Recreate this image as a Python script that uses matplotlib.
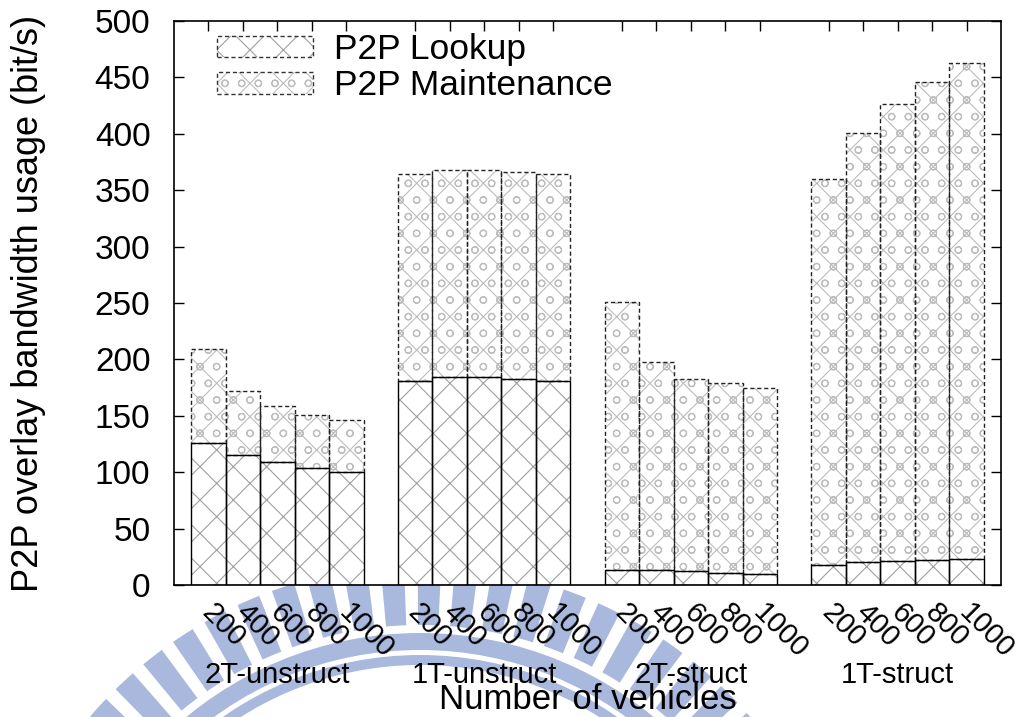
import numpy as np
import matplotlib.pyplot as plt
from matplotlib.patches import Patch, Wedge
from matplotlib.transforms import ScaledTranslation, blended_transform_factory

plt.rcParams['font.family'] = ['Liberation Sans', 'DejaVu Sans']
plt.rcParams['hatch.linewidth'] = 0.8

# -----------------------------
# Data
# -----------------------------
groups = ['2T-unstruct', '1T-unstruct', '2T-struct', '1T-struct']
vehicles = ['200', '400', '600', '800', '1000']

lookup = [
    [126, 115, 109, 104, 100],
    [181, 184, 184, 183, 181],
    [13.5, 13, 12, 11, 10],
    [18, 20, 21, 22, 23],
]
maintenance = [
    [83, 57, 50, 47, 46],
    [183, 184, 184, 183, 183],
    [237.5, 185, 171, 168, 165],
    [342, 381, 405, 424, 440],
]

lookup_gray = '#a0a0a0'
maint_gray = '#bdbdbd'
logo_blue = '#a9b9dd'

fig = plt.figure(figsize=(10.21, 7.17), dpi=100)

# background emblem (pixel coordinates)
bg = fig.add_axes([0, 0, 1, 1], zorder=0)
bg.set_xlim(0, 1021)
bg.set_ylim(717, 0)
bg.axis('off')
cx, cy = 420, 1000
for a in np.arange(181.5, 360, 4.9):
    bg.add_patch(Wedge((cx, cy), 435, a, a + 3.1, width=60, color=logo_blue, lw=0))
bg.add_patch(Wedge((cx, cy), 367, 180, 360, width=17, color=logo_blue, lw=0))
bg.add_patch(Wedge((cx, cy), 345, 180, 360, width=10, color=logo_blue, lw=0))

ax = fig.add_axes([174 / 1021, 132 / 717, 827 / 1021, 564 / 717], zorder=1)
ax.set_facecolor('white')

xpos = []
for g in range(len(groups)):
    x = np.arange(len(vehicles)) + g * 6
    xpos.extend(x)
    lk = np.array(lookup[g])
    mt = np.array(maintenance[g])
    # hatch layer
    ax.bar(x, lk, width=1, color='white', edgecolor=lookup_gray, hatch='x', lw=0)
    ax.bar(x, mt, bottom=lk, width=1, color='white', edgecolor=maint_gray, hatch='xo', lw=0)
    # outlines
    ax.bar(x, mt, bottom=lk, width=1, fill=False, edgecolor='#222222', lw=1.0, ls=(0, (3, 2)))
    ax.bar(x, lk, width=1, fill=False, edgecolor='black', lw=1.0)

ax.set_xlim(-1, 23)
ax.set_ylim(0, 500)
ax.set_yticks(np.arange(0, 501, 50))
ax.tick_params(axis='y', direction='in', length=7, width=1, right=True, labelsize=24, pad=17)
ax.set_xticks(xpos)
ax.set_xticklabels(vehicles * len(groups), rotation=-45, ha='left', va='center',
                   rotation_mode='anchor', fontsize=21)
ax.tick_params(axis='x', direction='in', length=7, width=1, top=True, bottom=False, pad=17)
for lab in ax.get_xticklabels():
    lab.set_transform(lab.get_transform() + ScaledTranslation(-2 / 72, 0, fig.dpi_scale_trans))
for s in ax.spines.values():
    s.set_linewidth(1.2)

trans = blended_transform_factory(ax.transData, ax.transAxes)
for g, name in enumerate(groups):
    ax.text(g * 6 + 2, -0.16, name, transform=trans, ha='center', va='center', fontsize=21)

ax.set_xlabel('Number of vehicles', fontsize=25, va='center')
ax.xaxis.set_label_coords(0.5, -0.203)
ax.set_ylabel('P2P overlay bandwidth usage (bit/s)', fontsize=26, va='center')
ax.yaxis.set_label_coords(-0.176, 0.5)

# legend
h_lookup = (Patch(facecolor='white', edgecolor=lookup_gray, hatch='x', lw=0),
            Patch(fill=False, edgecolor='#333333', ls=(0, (3, 2)), lw=1.0))
h_maint = (Patch(facecolor='white', edgecolor=maint_gray, hatch='xo', lw=0),
           Patch(fill=False, edgecolor='#333333', ls=(0, (3, 2)), lw=1.0))
ax.legend([h_lookup, h_maint], ['P2P Lookup', 'P2P Maintenance'], loc='upper left',
          bbox_to_anchor=(0.035, 1.004), frameon=False, fontsize=25.5,
          handlelength=2.7, handleheight=0.55, handletextpad=0.6, labelspacing=0.1,
          borderaxespad=0)

fig.savefig('out.png', dpi=100)
